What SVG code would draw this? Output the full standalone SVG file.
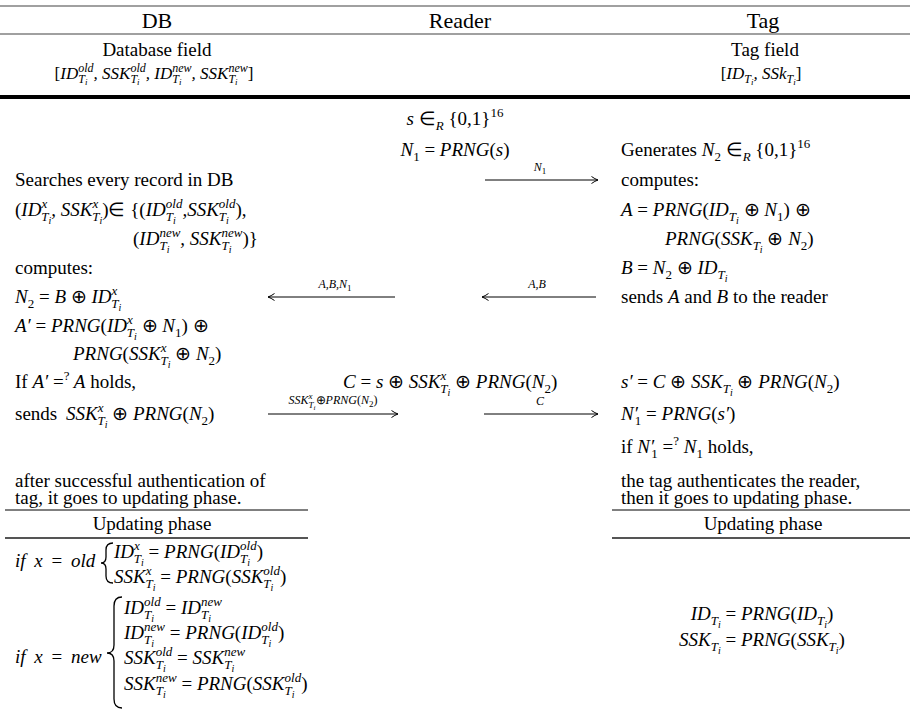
<svg xmlns="http://www.w3.org/2000/svg" width="910" height="711" viewBox="0 0 910 711">
<defs>
<style>
.t{font-family:"Liberation Serif","Times New Roman",serif;font-size:19px;fill:#000}
.h{font-size:22px}
.m{font-style:italic}
.u{font-style:normal}
.s{font-size:13px}
.ss{font-size:10px}
.b{font-size:17px}
.bs{font-size:12px}
.bss{font-size:9px}
.lab{font-size:12px}
.labs{font-size:9px}
.labss{font-size:7px}
.rg{stroke:#808080;stroke-width:1.5}
.rk{stroke:#000;stroke-width:1}
.rd{stroke:#555;stroke-width:2}
.conn line{stroke:#000;stroke-width:1;marker-end:url(#ah)}
.br{fill:none;stroke:#000;stroke-width:1.3}
.ws{word-spacing:4px}
</style>
<marker id="ah" markerUnits="userSpaceOnUse" markerWidth="10" markerHeight="10" refX="7" refY="4" orient="auto">
<path d="M0.5,0.5 Q4,3 7,4 Q4,5 0.5,7.5" fill="none" stroke="#000" stroke-width="1"/>
</marker>
</defs>
<rect width="910" height="711" fill="#fff"/>

<g id="rules">
<line x1="0" y1="6" x2="910" y2="6" class="rg"/>
<line x1="0" y1="34" x2="910" y2="34" class="rg"/>
<line x1="0" y1="97" x2="910" y2="97" stroke="#000" stroke-width="4"/>
<line x1="5" y1="510" x2="308" y2="510" class="rk"/>
<line x1="612" y1="510" x2="910" y2="510" class="rk"/>
<line x1="5" y1="538" x2="308" y2="538" class="rd"/>
<line x1="612" y1="538" x2="910" y2="538" class="rd"/>
</g>

<g id="header">
<text class="t h" x="157" y="28" text-anchor="middle">DB</text>
<text class="t h" x="460" y="28" text-anchor="middle">Reader</text>
<text class="t h" x="763" y="28" text-anchor="middle">Tag</text>
</g>

<g id="db">
<text class="t" x="157" y="56" text-anchor="middle">Database field</text>
<text class="t m b" x="154" y="79" text-anchor="middle"><tspan class="u">[</tspan>ID<tspan class="bs" dy="4">T</tspan><tspan class="bss" dy="2">i</tspan><tspan class="bs" dx="-9.2" dy="-13">old</tspan><tspan dy="7">, SSK</tspan><tspan class="bs" dy="4">T</tspan><tspan class="bss" dy="2">i</tspan><tspan class="bs" dx="-9.2" dy="-13">old</tspan><tspan dy="7">, ID</tspan><tspan class="bs" dy="4">T</tspan><tspan class="bss" dy="2">i</tspan><tspan class="bs" dx="-9.2" dy="-13">new</tspan><tspan dy="7">, SSK</tspan><tspan class="bs" dy="4">T</tspan><tspan class="bss" dy="2">i</tspan><tspan class="bs" dx="-9.2" dy="-13">new</tspan><tspan class="u" dy="7">]</tspan></text>

<text class="t" x="15" y="186">Searches every record in DB</text>
<text class="t m" x="15" y="216"><tspan class="u">(</tspan>ID<tspan class="s" dy="-8">x</tspan><tspan class="s" dx="-6" dy="13">T</tspan><tspan class="ss" dy="3">i</tspan><tspan dy="-8">, SSK</tspan><tspan class="s" dy="-8">x</tspan><tspan class="s" dx="-6" dy="13">T</tspan><tspan class="ss" dy="3">i</tspan><tspan class="u" dy="-8">)∈ {(</tspan>ID<tspan class="s" dy="5">T</tspan><tspan class="ss" dy="3">i</tspan><tspan class="s" dx="-10" dy="-16">old</tspan><tspan dy="8">,SSK</tspan><tspan class="s" dy="5">T</tspan><tspan class="ss" dy="3">i</tspan><tspan class="s" dx="-10" dy="-16">old</tspan><tspan class="u" dy="8">),</tspan></text>
<text class="t m" x="133" y="245"><tspan class="u">(</tspan>ID<tspan class="s" dy="5">T</tspan><tspan class="ss" dy="3">i</tspan><tspan class="s" dx="-10" dy="-16">new</tspan><tspan dy="8">, SSK</tspan><tspan class="s" dy="5">T</tspan><tspan class="ss" dy="3">i</tspan><tspan class="s" dx="-10" dy="-16">new</tspan><tspan class="u" dy="8">)}</tspan></text>
<text class="t" x="15" y="274">computes:</text>
<text class="t m" x="15" y="303">N<tspan class="s u" dy="5">2</tspan><tspan class="u" dy="-5"> = </tspan>B<tspan class="u"> ⊕ </tspan>ID<tspan class="s" dy="-8">x</tspan><tspan class="s" dx="-6" dy="13">T</tspan><tspan class="ss" dy="3">i</tspan></text>
<text class="t m" x="15" y="332">A′<tspan class="u"> = </tspan>PRNG<tspan class="u">(</tspan>ID<tspan class="s" dy="-8">x</tspan><tspan class="s" dx="-6" dy="13">T</tspan><tspan class="ss" dy="3">i</tspan><tspan class="u" dy="-8"> ⊕ </tspan>N<tspan class="s u" dy="5">1</tspan><tspan class="u" dy="-5">) ⊕</tspan></text>
<text class="t m" x="73" y="360">PRNG<tspan class="u">(</tspan>SSK<tspan class="s" dy="-8">x</tspan><tspan class="s" dx="-6" dy="13">T</tspan><tspan class="ss" dy="3">i</tspan><tspan class="u" dy="-8"> ⊕ </tspan>N<tspan class="s u" dy="5">2</tspan><tspan class="u" dy="-5">)</tspan></text>
<text class="t" x="15" y="388">If <tspan class="m">A′</tspan> =<tspan class="s" dy="-8">?</tspan><tspan class="m" dy="8"> A</tspan> holds,</text>
<text class="t" x="15" y="420">sends <tspan class="m" dx="4">SSK</tspan><tspan class="s m" dy="-8">x</tspan><tspan class="s m" dx="-6" dy="13">T</tspan><tspan class="ss m" dy="3">i</tspan><tspan dy="-8"> ⊕ </tspan><tspan class="m">PRNG</tspan>(<tspan class="m">N</tspan><tspan class="s" dy="5">2</tspan><tspan dy="-5">)</tspan></text>
<text class="t" x="15" y="487">after successful authentication of</text>
<text class="t" x="15" y="504">tag, it goes to updating phase.</text>
<text class="t" x="152" y="530" text-anchor="middle">Updating phase</text>

<text class="t m ws" x="15" y="567">if x <tspan class="u">=</tspan> old</text>
<path class="br" d="M113,543 Q106,543 106,550 L106,557 Q106,563 101,563 Q106,563 106,569 L106,576 Q106,583 113,583"/>
<text class="t m" x="114" y="558">ID<tspan class="s" dy="-8">x</tspan><tspan class="s" dx="-6" dy="13">T</tspan><tspan class="ss" dy="3">i</tspan><tspan class="u" dy="-8"> = </tspan>PRNG<tspan class="u">(</tspan>ID<tspan class="s" dy="5">T</tspan><tspan class="ss" dy="3">i</tspan><tspan class="s" dx="-10" dy="-16">old</tspan><tspan class="u" dy="8">)</tspan></text>
<text class="t m" x="114" y="583">SSK<tspan class="s" dy="-8">x</tspan><tspan class="s" dx="-6" dy="13">T</tspan><tspan class="ss" dy="3">i</tspan><tspan class="u" dy="-8"> = </tspan>PRNG<tspan class="u">(</tspan>SSK<tspan class="s" dy="5">T</tspan><tspan class="ss" dy="3">i</tspan><tspan class="s" dx="-10" dy="-16">old</tspan><tspan class="u" dy="8">)</tspan></text>

<text class="t m ws" x="15" y="663">if x <tspan class="u">=</tspan> new</text>
<path class="br" d="M122,597 Q114,597 114,606 L114,645 Q114,653 107,653 Q114,653 114,661 L114,699 Q114,708 122,708"/>
<text class="t m" x="124" y="614">ID<tspan class="s" dy="5">T</tspan><tspan class="ss" dy="3">i</tspan><tspan class="s" dx="-10" dy="-16">old</tspan><tspan class="u" dy="8"> = </tspan>ID<tspan class="s" dy="5">T</tspan><tspan class="ss" dy="3">i</tspan><tspan class="s" dx="-10" dy="-16">new</tspan></text>
<text class="t m" x="124" y="639">ID<tspan class="s" dy="5">T</tspan><tspan class="ss" dy="3">i</tspan><tspan class="s" dx="-10" dy="-16">new</tspan><tspan class="u" dy="8"> = </tspan>PRNG<tspan class="u">(</tspan>ID<tspan class="s" dy="5">T</tspan><tspan class="ss" dy="3">i</tspan><tspan class="s" dx="-10" dy="-16">old</tspan><tspan class="u" dy="8">)</tspan></text>
<text class="t m" x="124" y="664">SSK<tspan class="s" dy="5">T</tspan><tspan class="ss" dy="3">i</tspan><tspan class="s" dx="-10" dy="-16">old</tspan><tspan class="u" dy="8"> = </tspan>SSK<tspan class="s" dy="5">T</tspan><tspan class="ss" dy="3">i</tspan><tspan class="s" dx="-10" dy="-16">new</tspan></text>
<text class="t m" x="124" y="690">SSK<tspan class="s" dy="5">T</tspan><tspan class="ss" dy="3">i</tspan><tspan class="s" dx="-10" dy="-16">new</tspan><tspan class="u" dy="8"> = </tspan>PRNG<tspan class="u">(</tspan>SSK<tspan class="s" dy="5">T</tspan><tspan class="ss" dy="3">i</tspan><tspan class="s" dx="-10" dy="-16">old</tspan><tspan class="u" dy="8">)</tspan></text>
</g>

<g id="reader">
<text class="t m" x="455" y="125" text-anchor="middle">s <tspan class="u">∈</tspan><tspan class="s" dy="5">R</tspan><tspan class="u" dy="-5"> {0,1}</tspan><tspan class="s u" dy="-8">16</tspan></text>
<text class="t m" x="455" y="156" text-anchor="middle">N<tspan class="s u" dy="5">1</tspan><tspan class="u" dy="-5"> = </tspan>PRNG<tspan class="u">(</tspan>s<tspan class="u">)</tspan></text>
<text class="t m" x="343" y="388">C<tspan class="u"> = </tspan>s<tspan class="u"> ⊕ </tspan>SSK<tspan class="s" dy="-8">x</tspan><tspan class="s" dx="-6" dy="13">T</tspan><tspan class="ss" dy="3">i</tspan><tspan class="u" dy="-8"> ⊕ </tspan>PRNG<tspan class="u">(</tspan>N<tspan class="s u" dy="5">2</tspan><tspan class="u" dy="-5">)</tspan></text>
</g>

<g id="tag">
<text class="t" x="765" y="56" text-anchor="middle">Tag field</text>
<text class="t m b" x="761" y="79" text-anchor="middle"><tspan class="u">[</tspan>ID<tspan class="bs" dy="4">T</tspan><tspan class="bss" dy="2">i</tspan><tspan dy="-6">, SSk</tspan><tspan class="bs" dy="4">T</tspan><tspan class="bss" dy="2">i</tspan><tspan class="u" dy="-6">]</tspan></text>
<text class="t" x="621" y="156">Generates <tspan class="m">N</tspan><tspan class="s" dy="5">2</tspan><tspan dy="-5"> ∈</tspan><tspan class="s m" dy="5">R</tspan><tspan dy="-5"> {0,1}</tspan><tspan class="s" dy="-8">16</tspan></text>
<text class="t" x="621" y="186">computes:</text>
<text class="t m" x="621" y="216">A<tspan class="u"> = </tspan>PRNG<tspan class="u">(</tspan>ID<tspan class="s" dy="5">T</tspan><tspan class="ss" dy="3">i</tspan><tspan class="u" dy="-8"> ⊕ </tspan>N<tspan class="s u" dy="5">1</tspan><tspan class="u" dy="-5">) ⊕</tspan></text>
<text class="t m" x="665" y="245">PRNG<tspan class="u">(</tspan>SSK<tspan class="s" dy="5">T</tspan><tspan class="ss" dy="3">i</tspan><tspan class="u" dy="-8"> ⊕ </tspan>N<tspan class="s u" dy="5">2</tspan><tspan class="u" dy="-5">)</tspan></text>
<text class="t m" x="621" y="274">B<tspan class="u"> = </tspan>N<tspan class="s u" dy="5">2</tspan><tspan class="u" dy="-5"> ⊕ </tspan>ID<tspan class="s" dy="5">T</tspan><tspan class="ss" dy="3">i</tspan></text>
<text class="t" x="621" y="303">sends <tspan class="m">A</tspan> and <tspan class="m">B</tspan> to the reader</text>
<text class="t m" x="621" y="388">s′<tspan class="u"> = </tspan>C<tspan class="u"> ⊕ </tspan>SSK<tspan class="s" dy="5">T</tspan><tspan class="ss" dy="3">i</tspan><tspan class="u" dy="-8"> ⊕ </tspan>PRNG<tspan class="u">(</tspan>N<tspan class="s u" dy="5">2</tspan><tspan class="u" dy="-5">)</tspan></text>
<text class="t m" x="621" y="420">N′<tspan class="s u" dx="-3" dy="5">1</tspan><tspan class="u" dy="-5"> = </tspan>PRNG<tspan class="u">(</tspan>s′<tspan class="u">)</tspan></text>
<text class="t" x="621" y="453">if <tspan class="m">N′</tspan><tspan class="s" dx="-3" dy="5">1</tspan><tspan dy="-5"> =</tspan><tspan class="s" dy="-8">?</tspan><tspan class="m" dy="8"> N</tspan><tspan class="s" dy="5">1</tspan><tspan dy="-5"> holds,</tspan></text>
<text class="t" x="621" y="487">the tag authenticates the reader,</text>
<text class="t" x="621" y="504">then it goes to updating phase.</text>
<text class="t" x="763" y="530" text-anchor="middle">Updating phase</text>
<text class="t m" x="762" y="620" text-anchor="middle">ID<tspan class="s" dy="5">T</tspan><tspan class="ss" dy="3">i</tspan><tspan class="u" dy="-8"> = </tspan>PRNG<tspan class="u">(</tspan>ID<tspan class="s" dy="5">T</tspan><tspan class="ss" dy="3">i</tspan><tspan class="u" dy="-8">)</tspan></text>
<text class="t m" x="762" y="646" text-anchor="middle">SSK<tspan class="s" dy="5">T</tspan><tspan class="ss" dy="3">i</tspan><tspan class="u" dy="-8"> = </tspan>PRNG<tspan class="u">(</tspan>SSK<tspan class="s" dy="5">T</tspan><tspan class="ss" dy="3">i</tspan><tspan class="u" dy="-8">)</tspan></text>
</g>

<g id="connectors" class="conn">
<line x1="485" y1="180" x2="598" y2="180"/>
<line x1="395" y1="297" x2="268" y2="297"/>
<line x1="596" y1="297" x2="482" y2="297"/>
<line x1="268" y1="414" x2="398" y2="414"/>
<line x1="484" y1="414" x2="598" y2="414"/>
<text class="t m lab" x="540" y="171" text-anchor="middle">N<tspan class="labs u" dy="3">1</tspan></text>
<text class="t m lab" x="335" y="288" text-anchor="middle">A,B,N<tspan class="labs u" dy="3">1</tspan></text>
<text class="t m lab" x="537" y="288" text-anchor="middle">A,B</text>
<text class="t m lab" x="333" y="404" text-anchor="middle">SSK<tspan class="labs" dy="-5">x</tspan><tspan class="labs" dx="-4" dy="9">T</tspan><tspan class="labss" dy="2">i</tspan><tspan class="u" dy="-6">⊕</tspan>PRNG<tspan class="u">(</tspan>N<tspan class="labs u" dy="3">2</tspan><tspan class="u" dy="-3">)</tspan></text>
<text class="t m lab" x="540" y="405" text-anchor="middle">C</text>
</g>
</svg>
